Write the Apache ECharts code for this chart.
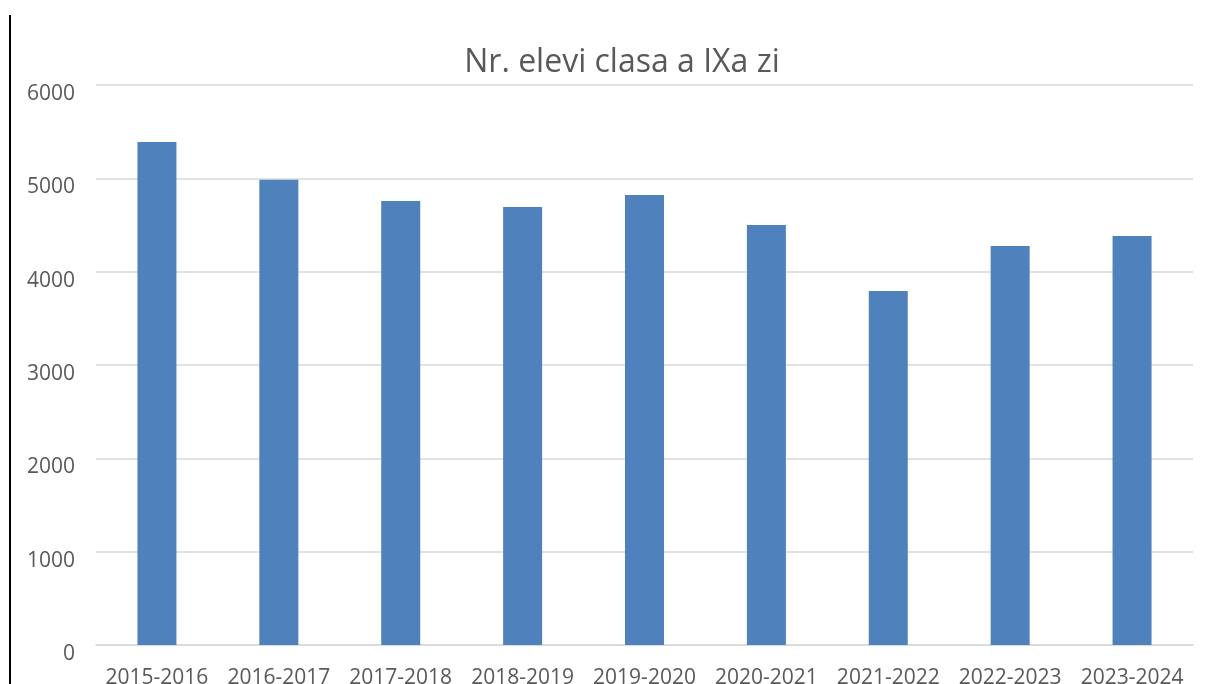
<!DOCTYPE html>
<html>
<head>
<meta charset="utf-8">
<script src="https://cdn.jsdelivr.net/npm/echarts@6/dist/echarts.min.js"></script>
<style>
  html, body { margin: 0; padding: 0; background: #fff; }
  #chart { width: 1208px; height: 684px; }
</style>
</head>
<body>
<div id="chart"></div>
<script>
const years = ['2015-2016', '2016-2017', '2017-2018', '2018-2019', '2019-2020', '2020-2021', '2021-2022', '2022-2023', '2023-2024']
const students = [5390, 4985, 4757, 4693, 4821, 4500, 3793, 4275, 4382]
const yTicks = [0, 1000, 2000, 3000, 4000, 5000, 6000]

const chartDom = document.getElementById('chart')
const myChart = echarts.init(chartDom)
const font = 'Open Sans'
const option = {
    animation: false,
    title: {
        text: 'Nr. elevi clasa a IXa zi',
        left: 617,
        textAlign: 'center',
        top: 42,
        textStyle: { fontFamily: font, fontSize: 32, fontWeight: 'normal', color: '#595959' }
    },
    grid: { left: 96, right: 15, top: 85, bottom: 39, containLabel: false, outerBoundsMode: 'none' },
    graphic: [{
        type: 'line',
        shape: { x1: 10, y1: 15, x2: 10, y2: 684 },
        style: { stroke: '#000', lineWidth: 2 }
    }],
    xAxis: {
        type: 'category',
        data: years,
        axisLine: { lineStyle: { color: '#d9d9d9', width: 1.5 } },
        axisTick: { show: false },
        axisLabel: { interval: 0, fontFamily: font, fontSize: 21, color: '#595959', margin: 23 }
    },
    yAxis: {
        type: 'value',
        min: yTicks[0],
        max: yTicks[yTicks.length - 1],
        interval: 1000,
        axisLine: { show: false },
        axisTick: { show: false },
        splitLine: { lineStyle: { color: '#d9d9d9', width: 1.5 } },
        axisLabel: {
            fontFamily: font, fontSize: 21, color: '#595959', margin: 21,
            verticalAlign: 'top', lineHeight: 18,
            formatter: v => String(v)
        }
    },
    series: [{
        type: 'bar',
        data: students,
        barWidth: 39,
        itemStyle: { color: '#4f81bd' }
    }]
}
myChart.setOption(option)
</script>
</body>
</html>
